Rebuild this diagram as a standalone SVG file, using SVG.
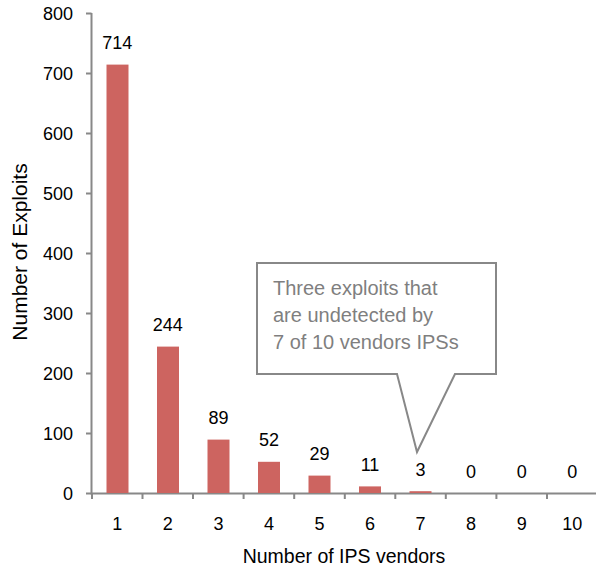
<svg xmlns="http://www.w3.org/2000/svg" width="596" height="567" viewBox="0 0 596 567">
<style>
text{font-family:"Liberation Sans",Arial,sans-serif;fill:#000}
.tk{font-size:18px;text-anchor:end}
.xl{font-size:18px;text-anchor:middle}
.ttl{font-size:19.5px;text-anchor:middle}
.vl{font-size:18px;text-anchor:middle}
.ax{stroke:#888;stroke-width:2;fill:none}
.bar{fill:#CD6460}
.co{font-size:20px;fill:#7f7f7f}
</style>
<rect width="596" height="567" fill="#fff"/>
<g id="axes">
<path class="ax" d="M91.5,13V493.5H597"/>
<path class="ax" d="M86,13.5H91.5M86,73.5H91.5M86,133.5H91.5M86,193.5H91.5M86,253.5H91.5M86,313.5H91.5M86,373.5H91.5M86,433.5H91.5M86,493.5H91.5"/>
<path class="ax" d="M92,493V499M142.5,493V499M193,493V499M243.6,493V499M294.2,493V499M344.8,493V499M395.3,493V499M445.8,493V499M496.4,493V499M547,493V499"/>
<text class="tk" x="73" y="20">800</text>
<text class="tk" x="73" y="80">700</text>
<text class="tk" x="73" y="140">600</text>
<text class="tk" x="73" y="200">500</text>
<text class="tk" x="73" y="260">400</text>
<text class="tk" x="73" y="320">300</text>
<text class="tk" x="73" y="380">200</text>
<text class="tk" x="73" y="440">100</text>
<text class="tk" x="73" y="500">0</text>
<text class="xl" x="117.3" y="530">1</text>
<text class="xl" x="167.8" y="530">2</text>
<text class="xl" x="218.4" y="530">3</text>
<text class="xl" x="268.9" y="530">4</text>
<text class="xl" x="319.5" y="530">5</text>
<text class="xl" x="370" y="530">6</text>
<text class="xl" x="420.6" y="530">7</text>
<text class="xl" x="471.1" y="530">8</text>
<text class="xl" x="521.7" y="530">9</text>
<text class="xl" x="572.2" y="530">10</text>
<text class="ttl" x="344" y="563">Number of IPS vendors</text>
<text class="ttl" transform="translate(27,252) rotate(-90)" style="font-size:21px">Number of Exploits</text>
</g>
<g id="bars">
<rect class="bar" x="106.5" y="64.6" width="22" height="428.4"/>
<rect class="bar" x="157" y="346.6" width="22" height="146.4"/>
<rect class="bar" x="207.5" y="439.6" width="22" height="53.4"/>
<rect class="bar" x="258" y="461.8" width="22" height="31.2"/>
<rect class="bar" x="308.5" y="475.6" width="22" height="17.4"/>
<rect class="bar" x="359" y="486.4" width="22" height="6.6"/>
<rect class="bar" x="409.5" y="491.2" width="22" height="1.8"/>
</g>
<g id="values">
<text class="vl" x="117.3" y="49">714</text>
<text class="vl" x="167.8" y="331">244</text>
<text class="vl" x="218.4" y="424">89</text>
<text class="vl" x="268.9" y="446">52</text>
<text class="vl" x="319.5" y="460">29</text>
<text class="vl" x="370" y="471">11</text>
<text class="vl" x="420.6" y="476">3</text>
<text class="vl" x="471.1" y="478">0</text>
<text class="vl" x="521.7" y="478">0</text>
<text class="vl" x="572.2" y="478">0</text>
</g>
<g id="callout">
<path d="M257,263H496V374H455L417,452L397,374H257Z" fill="#fff" stroke="#888" stroke-width="2"/>
<text class="co" x="273" y="295">Three exploits that</text>
<text class="co" x="273" y="322">are undetected by</text>
<text class="co" x="273" y="349">7 of 10 vendors IPSs</text>
</g>
</svg>
